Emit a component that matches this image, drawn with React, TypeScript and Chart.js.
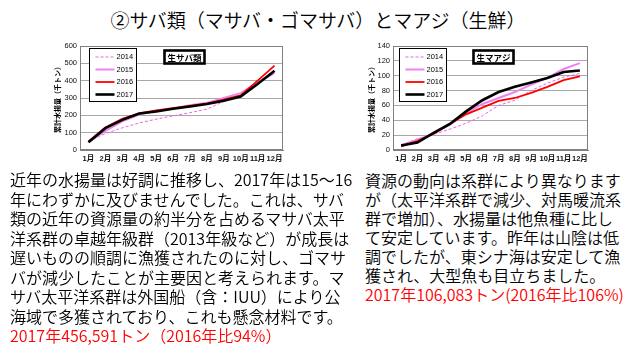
import React, { useEffect, useRef } from "react";
import { Chart, registerables } from "chart.js";
Chart.register(...registerables);

const MONTHS = ["1月", "2月", "3月", "4月", "5月", "6月", "7月", "8月", "9月", "10月", "11月", "12月"];
const YEARS = ["2014", "2015", "2016", "2017"];

const SABA_2014 = [50, 95, 128, 156, 178, 197, 215, 236, 280, 320, 385, 440];
const SABA_2015 = [45, 110, 165, 205, 225, 240, 258, 272, 300, 328, 390, 445];
const SABA_2016 = [50, 130, 180, 212, 228, 242, 255, 268, 290, 315, 400, 487];
const SABA_2017 = [45, 126, 174, 211, 222, 238, 251, 265, 284, 309, 381, 457];

const AJI_2014 = [7, 15, 21, 28, 36, 46, 60, 67, 80, 90, 98, 103];
const AJI_2015 = [6, 14, 22, 34, 50, 62, 70, 78, 88, 97, 109, 117];
const AJI_2016 = [5, 12, 22, 35, 48, 57, 66, 70, 77, 85, 94, 99];
const AJI_2017 = [6, 10, 23, 35, 52, 67, 78, 85, 91, 97, 105, 107];

const SABA_MAX = 600;
const SABA_STEP = 100;
const AJI_MAX = 140;
const AJI_STEP = 20;

const Y_TITLE = "累計水揚量（千トン）";

const TITLE = "②サバ類（マサバ・ゴマサバ）とマアジ（生鮮）";
const LEFT_LINES = [
  "近年の水揚量は好調に推移し、2017年は15〜16",
  "年にわずかに及びませんでした。これは、サバ",
  "類の近年の資源量の約半分を占めるマサバ太平",
  "洋系群の卓越年級群（2013年級など）が成長は",
  "遅いものの順調に漁獲されたのに対し、ゴマサ",
  "バが減少したことが主要因と考えられます。マ",
  "サバ太平洋系群は外国船（含：IUU）により公",
  "海域で多獲されており、これも懸念材料です。",
];
const LEFT_RED = "2017年456,591トン（2016年比94%）";
const RIGHT_LINES = [
  "資源の動向は系群により異なります",
  "が（太平洋系群で減少、対馬暖流系",
  "群で増加）、水揚量は他魚種に比し",
  "て安定しています。昨年は山陰は低",
  "調でしたが、東シナ海は安定して漁",
  "獲され、大型魚も目立ちました。",
];
const RIGHT_RED = "2017年106,083トン(2016年比106%)";

const STYLES = [
  { color: "#e466e4", width: 1, dash: [3, 2] },
  { color: "#ee82ee", width: 2, dash: [] },
  { color: "#ff0000", width: 1.8, dash: [] },
  { color: "#000000", width: 2.6, dash: [] },
];

const FONT = "'Liberation Sans', Arial, 'Noto Sans CJK JP', sans-serif";
const JP = "'Noto Sans CJK JP', sans-serif";

const boxPlugin = {
  id: "boxes",
  beforeDatasetsDraw(chart: any) {
    const { ctx, chartArea: a } = chart;
    ctx.save();
    ctx.strokeStyle = "#808080";
    ctx.lineWidth = 1;
    ctx.strokeRect(a.left + 0.5, a.top + 0.5, a.width - 1, a.height - 1);
    ctx.restore();
  },
  afterDraw(chart: any, _args: any, opts: any) {
    const { ctx, chartArea: a } = chart;
    ctx.save();
    const lx = Math.round(a.left + opts.legendX) + 0.5;
    const ly = Math.round(a.top + 2) + 0.5;
    const lw = 47;
    const lh = 53;
    ctx.fillStyle = "#fff";
    ctx.fillRect(lx, ly, lw, lh);
    ctx.strokeStyle = "#000";
    ctx.lineWidth = 1;
    ctx.strokeRect(lx, ly, lw, lh);
    const ds = chart.data.datasets;
    ds.forEach((d: any, i: number) => {
      const y = ly + 8.5 + i * 12.5;
      ctx.beginPath();
      ctx.strokeStyle = d.borderColor;
      ctx.lineWidth = d.borderWidth;
      ctx.setLineDash(d.borderDash || []);
      ctx.moveTo(lx + 6, y);
      ctx.lineTo(lx + 25, y);
      ctx.stroke();
      ctx.setLineDash([]);
      ctx.fillStyle = "#000";
      ctx.font = `7.5px ${FONT}`;
      ctx.textBaseline = "middle";
      ctx.textAlign = "left";
      ctx.fillText(d.label, lx + 27, y);
    });
    const tw = 40;
    const th = 13;
    const tx = Math.round(a.left + a.width / 2 + 2 - tw / 2) + 0.5;
    const ty = Math.round(a.top + 4) + 0.5;
    ctx.fillStyle = "#fff";
    ctx.fillRect(tx, ty, tw, th);
    ctx.strokeStyle = "#000";
    ctx.strokeRect(tx, ty, tw, th);
    ctx.fillStyle = "#000";
    ctx.font = `bold 8.5px ${JP}`;
    ctx.textAlign = "center";
    ctx.textBaseline = "middle";
    ctx.fillText(opts.title, tx + tw / 2, ty + th / 2 + 0.5);
    ctx.restore();
  },
};

type CProps = {
  left: number;
  top: number;
  width: number;
  height: number;
  series: number[][];
  yMax: number;
  yStep: number;
  title: string;
  padLeft: number;
  yWidth: number;
  legendX: number;
};

function CumChart(p: CProps) {
  const ref = useRef<HTMLCanvasElement>(null);
  useEffect(() => {
    if (!ref.current) return;
    const chart = new Chart(ref.current, {
      type: "line",
      data: {
        labels: MONTHS,
        datasets: YEARS.map((y, i) => ({
          label: y,
          data: p.series[i],
          borderColor: STYLES[i].color,
          borderWidth: STYLES[i].width,
          borderDash: STYLES[i].dash,
          pointRadius: 0,
          tension: 0,
          fill: false,
          order: 3 - i,
        })),
      },
      options: {
        responsive: false,
        animation: false,
        events: [],
        layout: { padding: { left: p.padLeft, right: 7, top: 8, bottom: 0 } },
        plugins: {
          legend: { display: false },
          tooltip: { enabled: false },
          boxes: { title: p.title, legendX: p.legendX },
        } as any,
        scales: {
          x: {
            offset: true,
            grid: { display: false, drawTicks: false },
            border: { display: true, color: "#808080" },
            ticks: { font: { size: 7.5, family: FONT, weight: "bold" }, color: "#111", padding: 4, maxRotation: 0, autoSkip: false },
            afterFit: (s: any) => { s.height = 18; },
          },
          y: {
            min: 0,
            max: p.yMax,
            grid: { color: "#a8a8a8", lineWidth: 1, drawTicks: false },
            border: { display: true, color: "#808080" },
            ticks: { stepSize: p.yStep, font: { size: 7.5, family: FONT }, color: "#111", padding: 3 },
            title: { display: true, text: Y_TITLE, font: { size: 7, family: JP, weight: "bold" }, color: "#000", padding: { top: 3, bottom: 0 } },
            afterFit: (s: any) => { s.width = p.yWidth; },
          },
        },
      },
      plugins: [boxPlugin],
    });
    return () => chart.destroy();
  }, []);
  return (
    <canvas
      ref={ref}
      width={p.width}
      height={p.height}
      style={{ position: "absolute", left: p.left, top: p.top, width: p.width, height: p.height }}
    />
  );
}

export default function App() {
  const textStyle: React.CSSProperties = {
    position: "absolute",
    fontFamily: JP,
    fontSize: 16,
    fontWeight: 350,
    color: "#000",
    whiteSpace: "pre",
  };
  return (
    <div style={{ position: "absolute", left: 0, top: 0, width: 640, height: 360, background: "#fff", overflow: "hidden" }}>
      <div style={{ position: "absolute", left: -2, top: 8, width: 640, textAlign: "center", fontFamily: JP, fontSize: 19, fontWeight: 350, lineHeight: "24px", whiteSpace: "pre" }}>
        {TITLE}
      </div>
      <CumChart left={40} top={38} width={250} height={130} series={[SABA_2014, SABA_2015, SABA_2016, SABA_2017]} yMax={SABA_MAX} yStep={SABA_STEP} title="生サバ類" padLeft={10} yWidth={30} legendX={9} />
      <CumChart left={360} top={38} width={235} height={130} series={[AJI_2014, AJI_2015, AJI_2016, AJI_2017]} yMax={AJI_MAX} yStep={AJI_STEP} title="生マアジ" padLeft={4} yWidth={29} legendX={6} />
      <div style={{ ...textStyle, left: 10, top: 170, lineHeight: "19.5px" }}>
        {LEFT_LINES.map((l, i) => (<div key={i}>{l}</div>))}
        <div style={{ color: "#ff0000" }}>{LEFT_RED}</div>
      </div>
      <div style={{ ...textStyle, left: 365, top: 170.5, lineHeight: "19px" }}>
        {RIGHT_LINES.map((l, i) => (<div key={i}>{l}</div>))}
        <div style={{ color: "#ff0000" }}>{RIGHT_RED}</div>
      </div>
    </div>
  );
}
